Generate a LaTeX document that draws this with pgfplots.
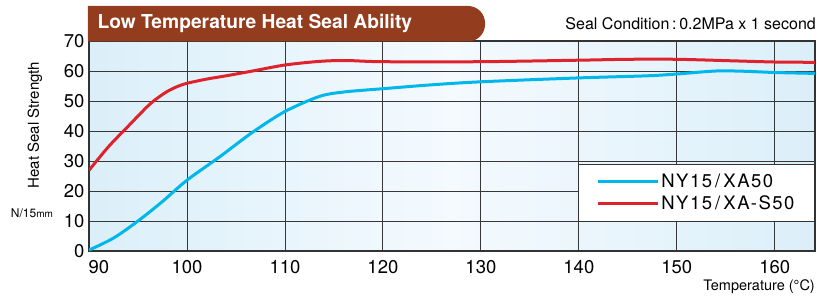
\documentclass[border=0pt]{standalone}
\usepackage{pgfplots}
\pgfplotsset{compat=1.18}
\usepackage{fontspec}
\setmainfont{TeX Gyre Heros}
\newfontfamily\legfont[LetterSpace=8]{TeX Gyre Heros}
\definecolor{cblue}{RGB}{0,183,235}
\definecolor{cred}{RGB}{222,35,45}
\definecolor{banner}{RGB}{148,60,30}
\definecolor{bgA}{RGB}{219,239,249}
\definecolor{bgB}{RGB}{244,250,254}
\definecolor{gridc}{RGB}{55,55,55}
\begin{document}
\begin{tikzpicture}
\useasboundingbox (-89pt,-45pt) rectangle (728pt,251pt);
\begin{axis}[
 scale only axis, width=726pt, height=210pt,
 xmin=90, xmax=164.1, ymin=0, ymax=70,
 xtick={100,110,...,160}, ytick={0,10,...,70},
 extra x ticks={90},
 extra x tick style={grid=none, xticklabel style={anchor=north west, xshift=-4pt}},
 grid=major, major grid style={gridc, line width=0.9pt},
 axis line style={draw=black!80, line width=1.8pt},
 major tick length=0pt,
 tick label style={font=\fontsize{18.5}{20}\selectfont},
 /pgf/number format/assume math mode=true,
 xticklabel style={yshift=-6pt},
 yticklabel style={xshift=-1pt},
 axis background/.style={left color=bgA, right color=bgA, middle color=bgB},
 legend style={at={(rel axis cs:1,0.1386)}, anchor=south east,
   draw=black!80, line width=1pt, fill=white,
   font=\legfont\fontsize{18.5}{20}\selectfont,
   inner xsep=18pt, inner ysep=8pt, row sep=3pt},
 legend cell align=left,
 legend image code/.code={\draw[#1, line width=3pt] (0pt,0pt) -- (60pt,0pt);},
]
\addplot[cblue, line width=3pt, smooth] coordinates {
 (90,0.3) (92.5,4.3) (95,10.0) (97.5,16.5) (100,23.6) (103.3,31.3) (106.7,39.6)
 (110,46.5) (113.5,51.5) (116,53.0) (120,54.1) (125,55.4) (130,56.4) (140,57.7)
 (147,58.4) (150,59.0) (154,60.0) (157,59.9) (160,59.5) (164.1,59.2)};
\addlegendentry{NY15\,/\,XA50}
\addplot[cred, line width=3pt, smooth] coordinates {
 (90,26.9) (92,34.8) (94,41.6) (96,48.3) (97,51.0) (98,53.2) (99,54.8) (100,55.9)
 (102,57.3) (104,58.4) (106.7,60.0)
 (110,62.0) (113.5,63.2) (116.2,63.5) (120,63.1) (130,63.1) (140,63.6) (145,63.9)
 (150,63.9) (155.6,63.4) (160,63.0) (164.1,62.9)};
\addlegendentry{NY15\,/\,XA-S50}
\end{axis}
\fill[banner] (-1pt,209.5pt) -- (-1pt,245pt) {[rounded corners=17pt] -- (396pt,245pt) -- (396pt,209.5pt)} -- cycle;
\node[anchor=west, text=white, font=\bfseries\fontsize{19.2}{22}\selectfont] at (5pt,227.5pt) {Low Temperature Heat Seal Ability};
\node[anchor=base east, font=\fontsize{16}{18}\selectfont, inner sep=0pt] at (727pt,221pt) {Seal Condition\,:\,0.2MPa x 1 second};
\node[rotate=90, font=\fontsize{15}{17}\selectfont] at (-54pt,126pt) {Heat Seal Strength};
\node[font=\fontsize{12}{14}\selectfont] at (-57pt,38pt) {N/15{\fontsize{10}{12}\selectfont mm}};
\node[anchor=east, font=\fontsize{14.5}{16}\selectfont, inner sep=0pt] at (726pt,-36pt) {Temperature (°C)};
\end{tikzpicture}
\end{document}
